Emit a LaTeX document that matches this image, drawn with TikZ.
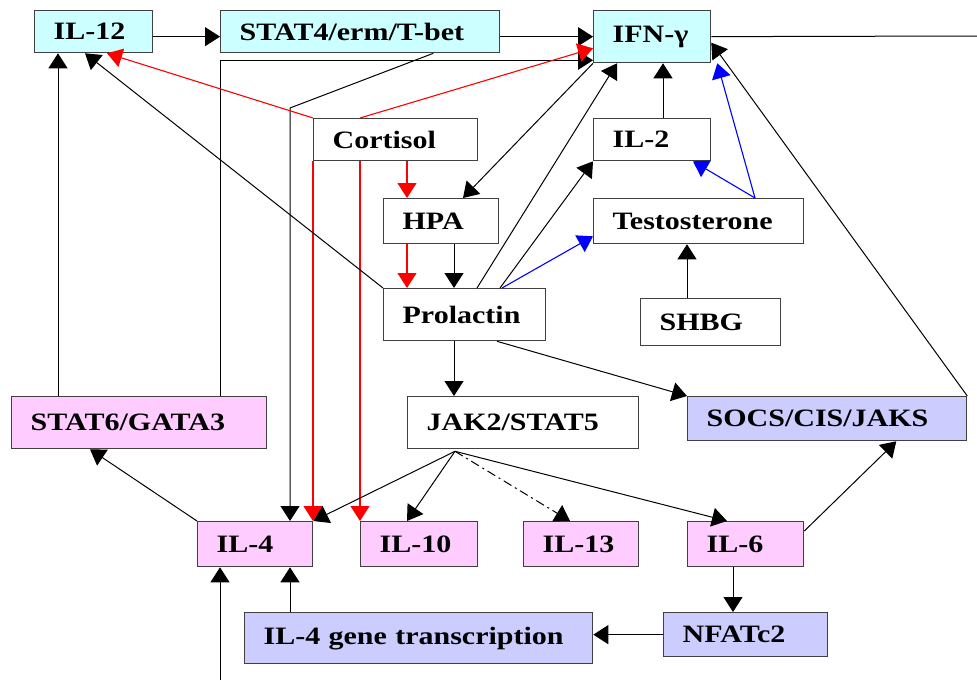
\documentclass[tikz,border=0pt]{standalone}
\usepackage{fontspec}
\usepackage{tikz}
\usetikzlibrary{arrows.meta,positioning}
\newfontfamily\boxfont{Liberation Serif}[FakeStretch=1.2]
\definecolor{thone}{HTML}{CCFFFF}
\definecolor{thtwo}{HTML}{FFCCFF}
\definecolor{reg}{HTML}{CCCCFF}
\tikzstyle{state}=[draw=black!75, line width=1.3pt, fill=white, anchor=north west, align=left, inner xsep=19pt, inner ysep=0pt, font=\boxfont\bfseries\fontsize{25}{28}\selectfont]
\tikzstyle{inh}=[red, line width=1.1pt]
\tikzstyle{andr}=[blue, line width=1.1pt]

\begin{document}
\begin{tikzpicture}[x=1pt,y=-1pt,>={Triangle[length=15pt,width=19pt]},line width=1pt]
\useasboundingbox (0,0) rectangle (977,680);
% top row
\node [state,fill=thone,text width=80pt,minimum height=42pt] (il12) at (34,10) {IL-12};
\node [state,fill=thone,text width=241pt,minimum height=42pt] (stat4) at (220,10) {STAT4/erm/T-bet};
\node [state,fill=thone,text width=79pt,minimum height=52pt] (ifn) at (593,10) {IFN-γ};
% hormones
\node [state,text width=126pt,minimum height=42pt] (cortisol) at (313,118) {Cortisol};
\node [state,text width=77pt,minimum height=45pt] (hpa) at (383,198) {HPA};
\node [state,text width=124pt,minimum height=52pt] (prolactin) at (383,288) {Prolactin};
\node [state,text width=79pt,minimum height=42pt] (il2) at (593,118) {IL-2};
\node [state,text width=172pt,minimum height=45pt] (testosterone) at (593,198) {Testosterone};
\node [state,text width=102pt,minimum height=47pt] (shbg) at (640,298) {SHBG};
% middle row
\node [state,fill=thtwo,text width=217pt,minimum height=52pt] (stat6) at (11,396) {STAT6/GATA3};
\node [state,text width=193pt,minimum height=52pt] (jak2) at (407,396) {JAK2/STAT5};
\node [state,fill=reg,text width=241pt,minimum height=44pt] (socs) at (687,396) {SOCS/CIS/JAKS};
% cytokines
\node [state,fill=thtwo,text width=77pt,minimum height=45pt] (il4) at (197,521) {IL-4};
\node [state,fill=thtwo,text width=79pt,minimum height=45pt] (il10) at (360,521) {IL-10};
\node [state,fill=thtwo,text width=77pt,minimum height=45pt] (il13) at (523,521) {IL-13};
\node [state,fill=thtwo,text width=78pt,minimum height=45pt] (il6) at (687,521) {IL-6};
\node [state,fill=reg,text width=310pt,minimum height=51pt] (gene) at (244,612) {IL-4 gene transcription};
\node [state,fill=reg,text width=126pt,minimum height=44pt] (nfatc2) at (663,612) {NFATc2};
\coordinate (ifnout) at (977,36);
\coordinate (below) at (220,680);
\coordinate (bend) at (290,108);

\draw[->] ([yshift=-5pt]il12.east) -- ([yshift=-5pt]il12.east -| stat4.west);
\draw[->] ([yshift=-5pt]stat4.east) -- (ifn.west);
\draw (ifn.east) -- (ifnout);
\draw[->] (socs.north east) -- ([yshift=-6pt]ifn.east);
\draw[->] ([xshift=47pt]stat6.north west) -- ([xshift=47pt]stat6.north west |- il12.south);
\draw[->] ([xshift=209pt]stat6.north west) |- ([yshift=3pt]ifn.south west);
\draw[->] ([xshift=-67pt]stat4.south east) -- (bend) -- (bend |- il4.north);
\draw[->] (il4.north west) -- ([xshift=79pt]stat6.south west);
% cortisol
\draw[->,inh] (cortisol.north west) -- ([xshift=73pt]il12.south west);
\draw[->,inh] ([xshift=47pt]cortisol.north west) -- ([yshift=15pt]ifn.south west);
\draw[->,inh] (cortisol.south west) -- (cortisol.south west |- il4.north);
\draw[->,inh] ([xshift=47pt]cortisol.south west) -- (il10.north west);
\draw[->,inh] ([xshift=94pt]cortisol.south west) -- ([xshift=94pt]cortisol.south west |- hpa.north);
\draw[->,inh] ([xshift=24pt]hpa.south west) -- ([xshift=24pt]hpa.south west |- prolactin.north);
\draw[->] ([xshift=71pt]hpa.south west) -- ([xshift=71pt]hpa.south west |- prolactin.north);
\draw[->] (ifn.south west) -- ([xshift=80pt]hpa.north west);
% prolactin
\draw[->] (prolactin.north west) -- ([xshift=51pt]il12.south west);
\draw[->] ([xshift=94pt]prolactin.north west) -- ([xshift=24pt]ifn.south west);
\draw[->] ([xshift=117pt]prolactin.north west) -- (il2.south west);
\draw[->,andr] ([xshift=119pt]prolactin.north west) -- ([yshift=8pt]testosterone.south west);
\draw[->] ([xshift=70pt]il2.north west) -- ([xshift=70pt]il2.north west |- ifn.south);
\draw[->,andr] ([xshift=162pt]testosterone.north west) -- ([xshift=100pt]il2.south west);
\draw[->,andr] ([xshift=162pt]testosterone.north west) -- ([xshift=6pt]ifn.south east);
\draw[->] ([xshift=47pt]shbg.north west) -- ([xshift=47pt]shbg.north west |- testosterone.south);
\draw[->] ([xshift=71pt]prolactin.south west) -- ([xshift=71pt]prolactin.south west |- jak2.north);
\draw[->] ([xshift=114pt]prolactin.south west) -- (socs.north west);
% jak2/stat5
\draw[->] ([xshift=48pt,yshift=-2pt]jak2.south west) -- (il4.north east);
\draw[->] ([xshift=48pt,yshift=-2pt]jak2.south west) -- ([xshift=47pt]il10.north west);
\draw[->,dash pattern=on 9pt off 4pt on 2pt off 4pt] ([xshift=48pt,yshift=-2pt]jak2.south west) -- ([xshift=47pt]il13.north west);
\draw[->] ([xshift=48pt,yshift=-2pt]jak2.south west) -- ([xshift=40pt]il6.north west);
\draw[->] ([yshift=-10pt]il6.north east) -- ([xshift=-71pt]socs.south east);
\draw[->] ([xshift=46pt]il6.south west) -- ([xshift=46pt]il6.south west |- nfatc2.north);
\draw[->] (nfatc2.west) -- (nfatc2.west -| gene.east);
\draw[->] ([xshift=46pt]gene.north west) -- ([xshift=46pt]gene.north west |- il4.south);
\draw[->] (below) -- (below |- il4.south);
\end{tikzpicture}
\end{document}
